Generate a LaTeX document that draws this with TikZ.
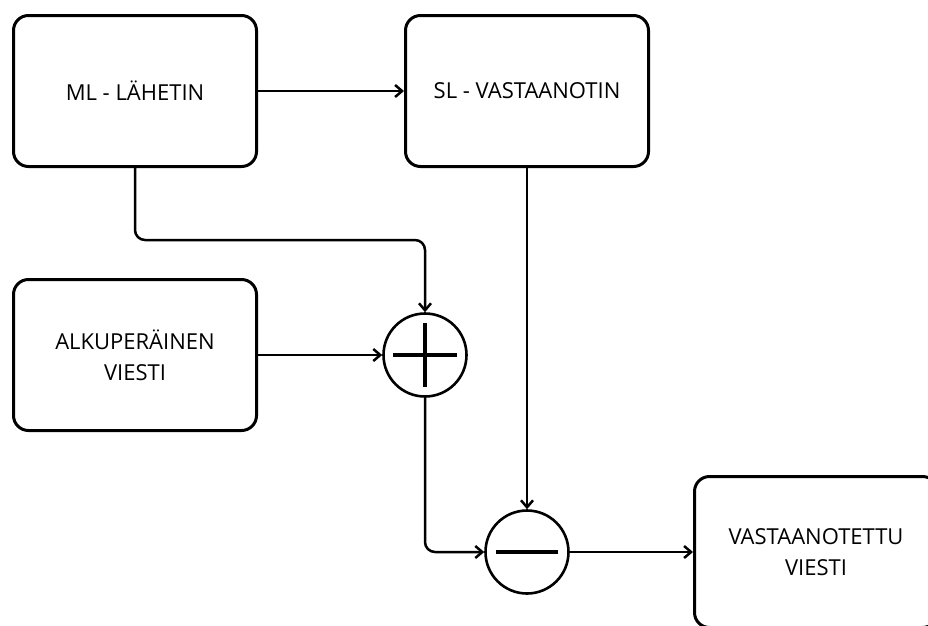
\documentclass[tikz,border=0pt]{standalone}
\usepackage{fontspec}
\setmainfont{Open Sans}
\usetikzlibrary{arrows.meta}
\tikzset{
  blk/.style={draw, line width=3pt, rounded corners=15pt, minimum width=243pt, minimum height=151pt, align=center, font=\fontsize{22}{31}\selectfont, inner sep=0pt},
  sumnode/.style={draw, circle, line width=2.6pt, minimum size=83pt, inner sep=0pt},
  conn/.style={line width=2.5pt, -{Straight Barb[length=7pt,width=12pt]}, rounded corners=10pt},
  sign/.style={line width=4.5pt}
}
\begin{document}
\begin{tikzpicture}[x=1pt,y=-1pt]
\clip (0,0) rectangle (928,625);
\fill[white] (0,0) rectangle (928,625);
\node[blk] (ml) at (135,91) {ML - LÄHETIN};
\node[blk] (sl) at (527,91) {SL - VASTAANOTIN};
\node[blk] (alk) at (135,355) {ALKUPERÄINEN\\VIESTI};
\node[sumnode] (plus) at (425,355) {};
\node[sumnode] (minus) at (527,552) {};
\node[blk] (vast) at (816,552) {VASTAANOTETTU\\VIESTI};
\coordinate (bend) at (135,240);
\draw[sign] ([xshift=-32pt]plus.center) -- ([xshift=32pt]plus.center);
\draw[sign] ([yshift=-32pt]plus.center) -- ([yshift=32pt]plus.center);
\draw[sign] ([xshift=-31pt]minus.center) -- ([xshift=31pt]minus.center);
\draw[conn] (ml) -- (sl);
\draw[conn] (ml.south) -- (bend) -| (plus.north);
\draw[conn] (alk) -- (plus);
\draw[conn] (plus.south) |- (minus.west);
\draw[conn] (sl.south) -- (minus.north);
\draw[conn] (minus) -- (vast);
\end{tikzpicture}
\end{document}
